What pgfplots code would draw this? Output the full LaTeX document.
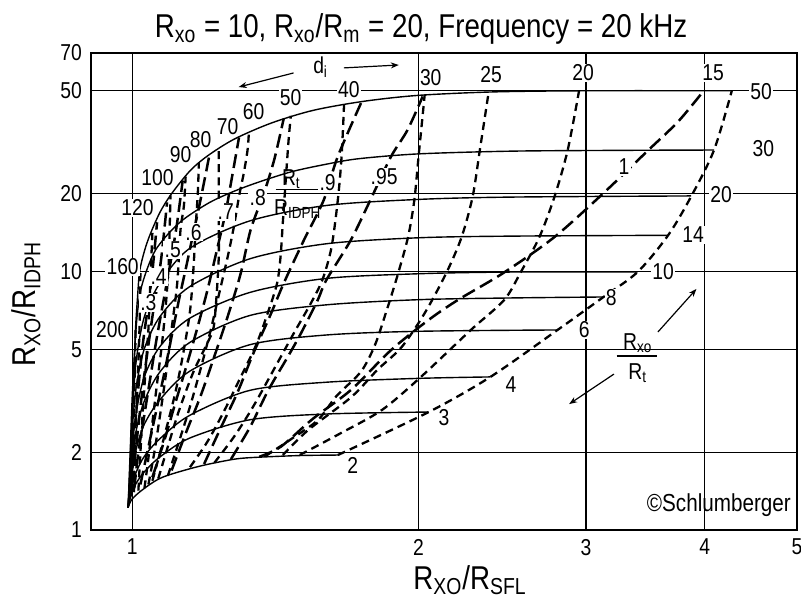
\documentclass[border=0pt]{standalone}
\usepackage{fontspec}
\setmainfont{Liberation Sans}[FakeStretch=0.84]
\usepackage{pgfplots}
\pgfplotsset{compat=1.18}
\usetikzlibrary{arrows.meta}
\tikzset{
 sol/.style={line width=0.7pt, smooth, tension=0.5},
 di/.style={line width=1.15pt, dash pattern=on 4pt off 2.6pt, smooth, tension=0.5},
 rr/.style={line width=1.25pt, dash pattern=on 7pt off 3pt, smooth, tension=0.5},
 lab/.style={font=\fontsize{11.5}{12}\selectfont, fill=white, inner sep=0.6pt},
}
\begin{document}
\begin{tikzpicture}
\begin{axis}[
 scale only axis, width=353pt, height=238.5pt,
 at={(0pt,0pt)}, anchor=south west,
 xmode=log, ymode=log,
 xmin=0.905, xmax=5, ymin=1, ymax=70,
 xtick={1,2,3,4,5}, xticklabels={1,2,3,4,5},
 ytick={1,2,5,10,20,50,70}, yticklabels={1,2,5,10,20,50,70},
 grid=major, major grid style={line width=0.55pt, black},
 axis line style={line width=1.2pt},
 major tick length=0pt, xtick pos=bottom, ytick pos=left,
 ticklabel style={font=\fontsize{11.5}{12}\selectfont},
 xticklabel style={yshift=-1pt},
 yticklabel style={xshift=-1pt},
 /pgf/number format/assume math mode=true,
]
% ---- Rxo/Rt = const (solid) ----
\addplot[sol] coordinates {(0.99,1.22)(1.0,1.32)(1.03,1.45)(1.076,1.6)(1.166,1.75)(1.25,1.85)(1.316,1.9)(1.49,1.94)(1.645,1.95)};
\addplot[sol] coordinates {(0.99,1.22)(0.995,1.32)(1.0,1.40)(1.01,1.52)(1.03,1.68)(1.07,1.92)(1.15,2.27)(1.33,2.67)(1.6,2.81)(2.05,2.86)};
\addplot[sol] coordinates {(0.99,1.22)(0.995,1.37)(1.0,1.5)(1.01,1.68)(1.03,1.93)(1.07,2.26)(1.15,2.78)(1.33,3.47)(1.6,3.73)(2.0,3.86)(2.38,3.91)};
\addplot[sol] coordinates {(0.99,1.22)(0.995,1.46)(1.0,1.71)(1.01,2.07)(1.03,2.57)(1.07,3.2)(1.15,4.12)(1.33,5.21)(1.6,5.68)(2.0,5.87)(2.8,5.94)};
\addplot[sol] coordinates {(0.99,1.22)(0.995,1.51)(1.0,1.88)(1.01,2.44)(1.03,3.16)(1.07,4.1)(1.15,5.32)(1.33,6.76)(1.6,7.43)(2.0,7.78)(2.5,7.9)(3.13,7.97)};
\addplot[sol] coordinates {(0.99,1.22)(0.995,1.54)(1.0,2.1)(1.01,2.87)(1.03,3.93)(1.07,5.14)(1.15,6.6)(1.33,8.3)(1.6,9.4)(2.0,9.8)(2.5,9.95)(3.40,9.96)};
\addplot[sol] coordinates {(0.99,1.22)(0.995,1.67)(1.0,2.45)(1.01,3.6)(1.03,5.04)(1.07,6.71)(1.15,8.75)(1.33,11.2)(1.6,12.8)(2.0,13.5)(2.5,13.7)(3.66,13.8)};
\addplot[sol] coordinates {(0.99,1.22)(0.995,1.84)(1.0,2.85)(1.01,4.56)(1.03,6.7)(1.07,9.06)(1.15,12.3)(1.33,15.7)(1.6,18.0)(2.0,19.0)(2.5,19.4)(3.87,19.6)};
\addplot[sol] coordinates {(0.99,1.22)(0.995,2.0)(1.0,3.3)(1.006,5)(1.013,7.0)(1.025,9.0)(1.058,12.1)(1.12,15.4)(1.2,18.3)(1.27,20.2)(1.35,22)(1.47,24.3)(1.6,26)(1.73,27.3)(2.0,28.5)(2.5,29.2)(3.2,29.4)(4.09,29.5)};
\addplot[sol] coordinates {(0.99,1.22)(0.995,1.6)(1.0,2.5)(1.004,4)(1.008,6)(1.013,8)(1.018,10)(1.03,12)(1.045,14)(1.07,17)(1.1,20)(1.15,24.5)(1.2,28)(1.28,32.5)(1.4,37.5)(1.55,42)(1.75,45.5)(2.0,48)(2.4,49.5)(3.0,50)(4.27,50)};
% ---- di (short dashes) ----
\addplot[di] coordinates {(1.645,1.95)(2.05,2.86)(2.38,3.91)(2.8,5.94)(3.13,7.97)(3.40,9.96)(3.66,13.8)(3.87,19.5)(4.09,29.5)(4.27,50)};
\addplot[di] coordinates {(1.50,1.95)(1.65,2.35)(1.83,2.91)(2.01,3.9)(2.27,5.94)(2.46,7.75)(2.56,9.9)(2.68,13.6)(2.78,19.5)(2.87,29.5)(2.95,50)};
\addplot[di] coordinates {(1.44,1.95)(1.53,2.43)(1.70,3.27)(1.81,4.16)(1.92,5.1)(2.03,6.9)(2.14,9.9)(2.22,13.6)(2.28,19.5)(2.32,29.5)(2.37,49.4)};
\addplot[di] coordinates {(1.38,1.93)(1.47,2.25)(1.567,2.66)(1.64,3.3)(1.74,4.1)(1.80,5.2)(1.85,7)(1.90,9.6)(1.95,13.6)(1.98,18.9)(2.0,27.7)(2.03,48.2)};
\addplot[di] coordinates {(1.22,1.82)(1.28,2.3)(1.34,3.0)(1.41,4.2)(1.48,5.8)(1.54,7.5)(1.585,9.3)(1.62,12.4)(1.645,18.9)(1.66,27.7)(1.67,44.3)};
\addplot[di] coordinates {(1.15,1.75)(1.2,2.2)(1.25,2.9)(1.30,3.9)(1.35,5.2)(1.39,7.0)(1.42,9.0)(1.432,11.4)(1.44,15.5)(1.45,22.5)(1.46,32)(1.468,40)};
\addplot[di] coordinates {(1.09,1.62)(1.12,2.2)(1.15,3.0)(1.18,4.2)(1.21,6)(1.235,8.3)(1.26,11.4)(1.279,14.9)(1.295,19.5)(1.31,24)(1.322,29.5)(1.326,34)};
\addplot[di] coordinates {(1.065,1.58)(1.09,2.1)(1.12,2.9)(1.16,4.1)(1.2,5.3)(1.218,6.1)(1.227,8.25)(1.233,11.4)(1.233,14.9)(1.233,18.9)(1.233,29.8)};
\addplot[di] coordinates {(1.05,1.55)(1.07,2.0)(1.09,2.6)(1.11,3.4)(1.13,4.7)(1.15,7)(1.16,10.4)(1.166,14.9)(1.172,20)(1.175,26.3)};
\addplot[di] coordinates {(1.04,1.5)(1.055,2.0)(1.07,2.8)(1.085,4.0)(1.10,6)(1.115,9)(1.124,14.5)(1.133,17.8)(1.138,23.3)};
\addplot[di] coordinates {(1.03,1.45)(1.04,1.9)(1.05,2.6)(1.062,3.7)(1.075,5.3)(1.085,7.5)(1.092,10.5)(1.095,14.9)(1.097,19.7)};
\addplot[di] coordinates {(1.015,1.42)(1.02,2.0)(1.026,2.9)(1.033,4.2)(1.04,6)(1.044,8.5)(1.047,11)(1.05,14.1)};
\addplot[di] coordinates {(1.004,1.4)(1.007,2)(1.01,2.8)(1.014,4)(1.017,5.5)(1.019,7.5)(1.02,10.1)};
\addplot[di] coordinates {(0.997,1.35)(1.0,1.7)(1.003,2.4)(1.005,3.3)(1.007,4.5)(1.008,6)};
% ---- Rt/RIDPH (long dashes) ----
\addplot[rr] coordinates {(1.36,1.92)(1.433,2.1)(1.55,2.7)(1.698,3.48)(1.872,4.97)(2.05,6.5)(2.2,7.76)(2.456,9.87)(2.78,13.6)(3.13,20.1)(3.49,29.5)(3.75,38)(3.99,50)};
\addplot[rr] coordinates {(1.27,1.88)(1.33,2.5)(1.39,3.47)(1.457,4.67)(1.505,5.78)(1.567,7.76)(1.60,9.27)(1.697,13.2)(1.78,18.9)(1.87,27.7)(1.947,35.2)(2.02,47.5)};
\addplot[rr] coordinates {(1.19,1.8)(1.24,2.5)(1.29,3.4)(1.34,4.8)(1.40,6.9)(1.443,9.0)(1.515,13.2)(1.59,18.9)(1.644,27.7)(1.74,44.8)};
\addplot[rr] coordinates {(1.10,1.7)(1.14,2.4)(1.18,3.3)(1.22,4.7)(1.26,6.7)(1.30,9.8)(1.332,14.5)(1.375,20)(1.41,27)(1.443,39)};
\addplot[rr] coordinates {(1.05,1.6)(1.08,2.2)(1.11,3.1)(1.14,4.3)(1.17,6)(1.2,8.5)(1.23,12.5)(1.254,17)(1.27,22)(1.295,33)};
\addplot[rr] coordinates {(1.02,1.5)(1.04,2.1)(1.06,2.9)(1.08,4)(1.1,5.6)(1.12,7.8)(1.14,10.5)(1.16,14.2)(1.18,19)(1.205,28)};
\addplot[rr] coordinates {(1.005,1.45)(1.015,2)(1.03,2.8)(1.045,3.9)(1.06,5.4)(1.075,7.2)(1.09,9.5)(1.103,12.1)(1.115,15.5)(1.13,22.5)};
\addplot[rr] coordinates {(1.0,1.5)(1.008,2)(1.018,2.8)(1.028,3.8)(1.04,5.2)(1.052,7)(1.066,9.5)(1.075,12)(1.088,18.5)};
\addplot[rr] coordinates {(0.997,1.45)(1.003,2)(1.01,2.9)(1.018,4)(1.027,5.4)(1.04,7.55)(1.05,10)(1.062,15.5)};
% ---- labels: Rxo/Rt ----
\node[lab] at (axis cs:1.706,1.77) {2};
\node[lab] at (axis cs:2.127,2.71) {3};
\node[lab] at (axis cs:2.502,3.64) {4};
\node[lab] at (axis cs:2.987,5.94) {6};
\node[lab] at (axis cs:3.19,7.90) {8};
\node[lab] at (axis cs:3.615,9.96) {10};
\node[lab] at (axis cs:3.89,13.84) {14};
\node[lab] at (axis cs:4.16,19.8) {20};
\node[lab] at (axis cs:4.61,30.0) {30};
\node[lab] at (axis cs:4.585,49.5) {50};
% ---- labels: di ----
\node[lab] at (axis cs:0.953,5.94) {200};
\node[lab] at (axis cs:0.977,10.4) {160};
\node[lab] at (axis cs:1.013,17.6) {120};
\node[lab] at (axis cs:1.063,23.0) {100};
\node[lab] at (axis cs:1.124,28.2) {90};
\node[lab] at (axis cs:1.18,32.3) {80};
\node[lab] at (axis cs:1.26,36.5) {70};
\node[lab] at (axis cs:1.342,41.4) {60};
\node[lab] at (axis cs:1.467,46.9) {50};
\node[lab] at (axis cs:1.69,50.4) {40};
\node[lab] at (axis cs:2.06,56.0) {30};
\node[lab] at (axis cs:2.384,57.6) {25};
\node[lab] at (axis cs:2.98,58.6) {20};
\node[lab] at (axis cs:4.08,58.6) {15};
% ---- labels: Rt/RIDPH ----
\node[lab] at (axis cs:1.040,7.55) {.3};
\node[lab] at (axis cs:1.066,9.52) {.4};
\node[lab] at (axis cs:1.103,12.1) {.5};
\node[lab] at (axis cs:1.16,14.2) {.6};
\node[lab] at (axis cs:1.254,17.0) {.7};
\node[lab] at (axis cs:1.355,19.4) {.8};
\node[lab] at (axis cs:1.605,22.0) {.9};
\node[lab] at (axis cs:1.84,23.2) {.95};
\node[lab] at (axis cs:3.29,25.4) {1};
% fraction Rt/RIDPH
\draw[line width=0.6pt] (axis cs:1.415,20.7) -- (axis cs:1.567,20.7);
\node[lab, fill=none, anchor=base] at (axis cs:1.47,21.6) {R\textsubscript{t}};
\node[lab, fill=none] at (axis cs:1.493,17.45) {R\textsubscript{IDPH}};
% fraction Rxo/Rt with arrows
\draw[line width=0.6pt] (axis cs:3.23,4.71) -- (axis cs:3.56,4.71);
\node[lab, fill=none] at (axis cs:3.40,5.29) {R\textsubscript{xo}};
\node[lab, fill=none] at (axis cs:3.40,4.05) {R\textsubscript{t}};
\draw[line width=0.6pt, -{Stealth[length=4pt,width=3pt]}] (axis cs:3.57,5.83) -- (axis cs:3.92,8.56);
\draw[line width=0.6pt, -{Stealth[length=4pt,width=3pt]}] (axis cs:3.21,4.01) -- (axis cs:2.88,3.07);
% di arrows
\node[lab, fill=none] at (axis cs:1.578,61.8) {d\textsubscript{i}};
\draw[line width=0.6pt, -{Stealth[length=4pt,width=3pt]}] (axis cs:1.478,58.6) -- (axis cs:1.294,51.7);
\draw[line width=0.6pt, -{Stealth[length=4pt,width=3pt]}] (axis cs:1.669,61.3) -- (axis cs:1.907,62.9);
\node[font=\fontsize{12.3}{13}\selectfont, anchor=east, inner sep=0pt] at (axis cs:4.93,1.25) {\textcopyright Schlumberger};
\end{axis}
\node[anchor=base, font=\fontsize{16.5}{18}\selectfont] at (165pt,246.5pt) {R\textsubscript{xo} = 10, R\textsubscript{xo}/R\textsubscript{m} = 20, Frequency = 20 kHz};
\node[anchor=base, font=\fontsize{16.5}{18}\selectfont] at (189.5pt,-29.5pt) {R\textsubscript{XO}/R\textsubscript{SFL}};
\node[rotate=90, font=\fontsize{16.5}{18}\selectfont] at (-32.5pt,113pt) {R\textsubscript{XO}/R\textsubscript{IDPH}};
\pgfresetboundingbox
\useasboundingbox (-45.5pt,-35.5pt) rectangle (355pt,265pt);
\end{tikzpicture}
\end{document}
